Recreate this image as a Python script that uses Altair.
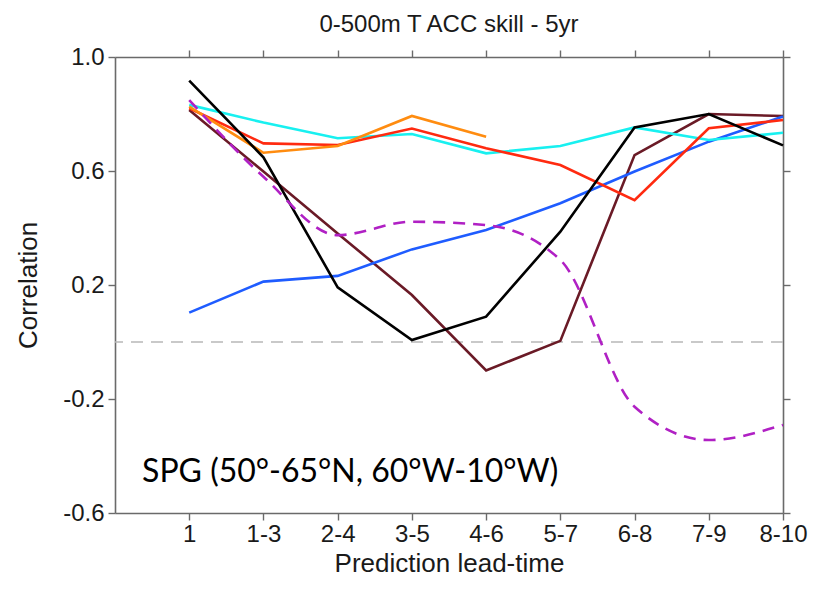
import json
import altair as alt
import pandas as pd

# ---- data ----
leads = ["1", "1-3", "2-4", "3-5", "4-6", "5-7", "6-8", "7-9", "8-10"]
black = [0.917, 0.648, 0.192, 0.007, 0.089, 0.387, 0.753, 0.800, 0.690]
orange = [0.826, 0.664, 0.688, 0.793, 0.720]
red = [0.820, 0.697, 0.691, 0.749, 0.680, 0.621, 0.498, 0.750, 0.779]
cyan = [0.832, 0.770, 0.715, 0.730, 0.662, 0.688, 0.753, 0.709, 0.734]
blue = [0.103, 0.212, 0.232, 0.325, 0.393, 0.487, 0.598, 0.703, 0.791]
maroon = [0.814, 0.598, 0.381, 0.165, -0.100, 0.004, 0.656, 0.800, 0.793]
magenta = [0.849, 0.580, 0.375, 0.422, 0.410, 0.288, -0.227, -0.344, -0.291]

series_names = ["maroon", "blue", "cyan", "red", "orange", "black"]
series_values = [maroon, blue, cyan, red, orange, black]
series_colors = ["#6a1a26", "#1f5cff", "#18f0f0", "#ff2a10", "#ff8c10", "#000000"]

y_ticks = [1.0, 0.6, 0.2, -0.2, -0.6]
title_text = "0-500m T ACC skill - 5yr"
region_text = "SPG (50°-65°N, 60°W-10°W)"

rows = []
for name, vals in zip(series_names, series_values):
    for i, v in enumerate(vals):
        rows.append({"series": name, "idx": i + 1, "value": v})
solid_df = pd.DataFrame(rows)
dash_df = pd.DataFrame({"idx": list(range(1, len(magenta) + 1)), "value": magenta})

xscale = alt.Scale(domain=[0, 9], nice=False, zero=False)
yscale = alt.Scale(domain=[-0.6, 1.0], nice=False, zero=False)

label_expr = json.dumps(leads) + "[datum.value - 1]"
ylabel_expr = "datum.value < 0 ? '-' + format(-datum.value, '.1f') : format(datum.value, '.1f')"

FRAME = "#6a6a6a"
FONT = "Liberation Sans"

common_axis = dict(domainColor=FRAME, domainWidth=1.6, tickColor=FRAME, tickWidth=1.4,
                   tickSize=7, grid=False, labelFlush=False)

x_bottom = alt.Axis(values=list(range(1, 10)), labelExpr=label_expr,
                    title="Prediction lead-time", labelFontSize=24, titleFontSize=26,
                    labelFont=FONT, titleFont=FONT, labelColor="#1a1a1a", titleColor="#1a1a1a",
                    titleFontWeight="normal", labelPadding=2, titlePadding=4,
                    labelOverlap=False, **common_axis)
y_left = alt.Axis(values=y_ticks, labelExpr=ylabel_expr, title="Correlation",
                  labelFontSize=24, titleFontSize=26, labelFont=FONT, titleFont=FONT,
                  labelColor="#1a1a1a", titleColor="#1a1a1a", titleFontWeight="normal",
                  labelPadding=4, titlePadding=21, labelOverlap=False, **common_axis)
x_top = alt.Axis(orient="top", values=list(range(1, 10)), labels=False, title=None, **common_axis)
y_right = alt.Axis(orient="right", values=y_ticks, labels=False, title=None, **common_axis)

solid = alt.Chart(solid_df).mark_line(strokeWidth=2.6).encode(
    x=alt.X("idx:Q", scale=xscale, axis=x_bottom),
    y=alt.Y("value:Q", scale=yscale, axis=y_left),
    color=alt.Color("series:N", scale=alt.Scale(domain=series_names, range=series_colors), legend=None),
    detail="series:N",
)

dashed = alt.Chart(dash_df).mark_line(strokeWidth=2.6, strokeDash=[12, 8], color="#b020c4",
                                      interpolate="monotone").encode(
    x=alt.X("idx:Q", scale=xscale, axis=x_top),
    y=alt.Y("value:Q", scale=yscale, axis=y_right),
)

zero = alt.Chart(pd.DataFrame({"v": [0.0]})).mark_rule(
    color="#b8b8b8", strokeWidth=1.6, strokeDash=[12, 8]).encode(
    y=alt.Y("v:Q", scale=yscale, axis=None),
)

label = alt.Chart(pd.DataFrame({"x": [0.364], "y": [-0.491], "t": [region_text]})).mark_text(
    align="left", baseline="alphabetic", font="Lato", fontSize=32, color="#000000").encode(
    x=alt.X("x:Q", scale=xscale, axis=None),
    y=alt.Y("y:Q", scale=yscale, axis=None),
    text="t:N",
)

chart = alt.layer(zero, solid, dashed, label).resolve_axis(
    x="independent", y="independent"
).properties(
    width=668, height=456,
    title=alt.TitleParams(title_text, fontSize=24, font=FONT, fontWeight="normal",
                          color="#1a1a1a", anchor="middle", offset=8),
    autosize=alt.AutoSizeParams(type="none"),
    padding={"left": 107, "top": 49, "right": 30, "bottom": 69},
    background="white",
).configure_view(stroke=None)

chart.save("out.html", embed_options={"renderer": "svg", "actions": False})
